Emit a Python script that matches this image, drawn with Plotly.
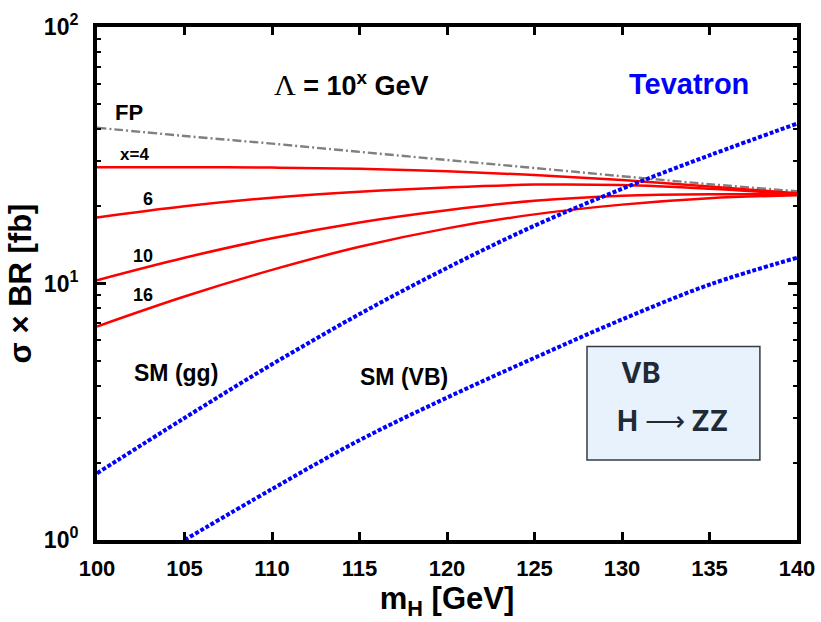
import plotly.graph_objects as go

# Higgs mass grid [GeV]
m_h = [100, 105, 110, 115, 120, 125, 130, 135, 140]

# sigma x BR [fb] for the FP scenario and finite cutoffs Lambda = 10^x GeV
fp = [40.5, 37.6, 35.1, 32.6, 30.3, 28.2, 26.2, 24.4, 22.9]
x4 = [28.4, 28.4, 28.3, 28.0, 27.4, 26.5, 25.3, 23.9, 22.5]
x6 = [18.1, 20.0, 21.6, 22.8, 23.7, 24.3, 24.2, 23.4, 22.3]
x10 = [10.3, 12.6, 15.0, 17.3, 19.3, 21.0, 22.0, 22.3, 22.2]
x16 = [6.8, 8.9, 11.3, 13.9, 16.4, 18.6, 20.3, 21.5, 22.1]

# Standard Model references
sm_gg = [1.82, 2.99, 4.84, 7.6, 11.5, 16.8, 23.4, 31.6, 42.0]
m_h_vb = [105, 110, 115, 120, 125, 130, 135, 140]
sm_vb = [1.0, 1.58, 2.45, 3.59, 5.13, 7.24, 9.9, 12.6]

x_ticks = [100, 105, 110, 115, 120, 125, 130, 135, 140]
y_ticks = [1, 10, 100]
y_tick_text = ["10<sup>0</sup>", "10<sup>1</sup>", "10<sup>2</sup>"]
y_minor = [v * d for d in (1, 10) for v in range(2, 10)]

FONT = "Liberation Sans, Arial, sans-serif"

fig = go.Figure()

fig.add_trace(go.Scatter(x=m_h, y=fp, mode="lines", line_shape="spline",
                         line=dict(color="#808080", width=2.4, dash="9px,3px,2px,3px")))
for series in (x4, x6, x10, x16):
    fig.add_trace(go.Scatter(x=m_h, y=series, mode="lines", line_shape="spline",
                             line=dict(color="#ff0000", width=2.5)))
fig.add_trace(go.Scatter(x=m_h, y=sm_gg, mode="lines", line_shape="spline",
                         line=dict(color="#0000ff", width=4, dash="4px,2px")))
fig.add_trace(go.Scatter(x=m_h_vb, y=sm_vb, mode="lines", line_shape="spline",
                         line=dict(color="#0000ff", width=4, dash="4px,2px")))

def label(text, x, y, size, color="black", family=FONT, bold=True, weight=None):
    fig.add_annotation(
        text=f"<b>{text}</b>" if bold else text,
        x=x, y=y, xref="paper", yref="paper", showarrow=False,
        xanchor="center", yanchor="middle",
        font=dict(size=size, color=color, family=family,
                  **({"weight": weight} if weight else {})),
    )

label("FP", 0.046, 0.833, 22)
label("x=4", 0.054, 0.751, 17)
label("6", 0.073, 0.665, 18)
label("10", 0.066, 0.554, 18)
label("16", 0.066, 0.477, 18)
label("SM (gg)", 0.113, 0.325, 23)
label("SM (VB)", 0.438, 0.317, 23)
label("Tevatron", 0.845, 0.889, 29, color="#0000ff")
fig.add_annotation(
    text="<span style='font-family:Liberation Serif, serif;font-size:30px'>Λ</span>"
         "<b> = 10<sup>x</sup> GeV</b>",
    x=0.363, y=0.925, xref="paper", yref="paper", showarrow=False,
    font=dict(size=27, color="black", family=FONT),
)

# process box
fig.add_shape(type="rect", xref="paper", yref="paper",
              x0=0.700, x1=0.947, y0=0.156, y1=0.377,
              fillcolor="#e8f2fc", line=dict(color="#333b44", width=1.5), layer="above")
label("VB", 0.776, 0.325, 28, color="#1f2a36", family="Inter", bold=False, weight=700)
fig.add_annotation(
    text="H <span style='font-family:DejaVu Sans;font-weight:300'>⟶</span> ZZ",
    x=0.822, y=0.231, xref="paper", yref="paper", showarrow=False,
    xanchor="center", yanchor="middle",
    font=dict(size=28, color="#1f2a36", family="Inter", weight=700),
)

axis_common = dict(
    showline=True, linewidth=4, linecolor="black", mirror="allticks",
    ticks="inside", tickcolor="black", showgrid=False, zeroline=False,
    automargin=False,
)

fig.update_xaxes(
    range=[100, 140], tickvals=x_ticks, ticklen=8, tickwidth=3,
    tickfont=dict(size=22, family=FONT, color="black"),
    ticktext=[f"<b>{t}</b>" for t in x_ticks], ticklabelstandoff=6,
    title=dict(text="<b>m<sub>H</sub> [GeV]</b>", font=dict(size=31, family=FONT, color="black"),
               standoff=6),
    **axis_common,
)
fig.update_yaxes(
    type="log", range=[0, 2], tickvals=y_ticks, ticktext=[f"<b>{t}</b>" for t in y_tick_text],
    ticklen=9, tickwidth=3,
    tickfont=dict(size=23, family=FONT, color="black"), ticklabelstandoff=10,
    minor=dict(tickvals=y_minor, ticks="inside", ticklen=4, tickwidth=2, tickcolor="black"),
    title=dict(text="<b>σ × BR [fb]</b>", font=dict(size=31, family=FONT, color="black"),
               standoff=4),
    **axis_common,
)

fig.update_layout(
    width=821, height=622,
    margin=dict(l=97, r=24, t=27, b=82),
    paper_bgcolor="white", plot_bgcolor="white",
    showlegend=False,
)

fig.write_html("out.html")
